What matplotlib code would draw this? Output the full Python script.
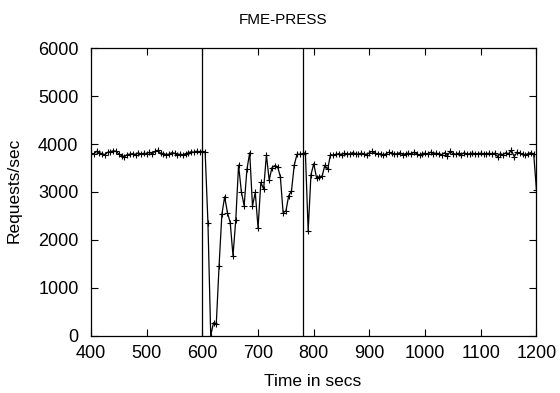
import numpy as np
import matplotlib
matplotlib.use("Agg")
import matplotlib.pyplot as plt

plt.rcParams['font.family'] = ['Liberation Sans', 'DejaVu Sans']

# sample times, one every 5 secs
times = np.arange(400, 1201, 5)

# steady state before the event (400..605)
before = [3810, 3790, 3850, 3820, 3800, 3780, 3830, 3840, 3860, 3850,
          3790, 3760, 3740, 3780, 3790, 3800, 3780, 3820, 3790, 3810,
          3800, 3830, 3790, 3850, 3870, 3810, 3800, 3780, 3790, 3820,
          3810, 3770, 3790, 3780, 3800, 3820, 3840, 3830, 3850, 3840,
          3850, 3830]

# disturbed period (610..835)
during = [2360, 0, 270, 245, 1460, 2530, 2900, 2570, 2360, 1670,
          2420, 3560, 3010, 2710, 3470, 3820, 2710, 2990, 2250, 3200,
          3060, 3770, 3250, 3510, 3550, 3530, 3320, 2570, 2600, 2920,
          3020, 3560, 3790, 3790, 3800, 3820, 2190, 3360, 3590, 3300,
          3320, 3330, 3560, 3470, 3780, 3770]

# recovered (840..1200)
after = [3790, 3800, 3780, 3810, 3790, 3800, 3820, 3800, 3790, 3810, 3800, 3780,
         3820, 3850, 3810, 3790, 3800, 3770, 3800, 3830, 3810, 3790, 3800, 3820,
         3780, 3800, 3810, 3790, 3830, 3800, 3770, 3800, 3810, 3790, 3830, 3800,
         3810, 3800, 3780, 3820, 3750, 3850, 3800, 3790, 3810, 3780, 3820, 3790,
         3800, 3810, 3800, 3800, 3810, 3800, 3800, 3810, 3790, 3810, 3740, 3800,
         3780, 3820, 3800, 3870, 3740, 3830, 3810, 3790, 3780, 3800, 3820, 3790,
         3040]

requests = before + during + after

# event markers
events = [600, 780]

fig = plt.figure(figsize=(5.6, 3.93), dpi=100)
ax = fig.add_axes([0.1625, 0.146, 0.7955, 0.731])

ax.plot(times, requests, color='black', linewidth=0.9, marker='+',
        markersize=4, markeredgewidth=0.8)
for ev in events:
    ax.axvline(ev, color='black', linewidth=0.9)

ax.set_xlim(400, 1200)
ax.set_ylim(0, 6000)
ax.set_xticks(range(400, 1201, 100))
ax.set_yticks(range(0, 6001, 1000))
ax.tick_params(direction='in', top=True, right=True, length=5, width=0.8,
               labelsize=13)
ax.tick_params(axis='x', pad=7)
ax.tick_params(axis='y', pad=9)
for s in ax.spines.values():
    s.set_linewidth(0.9)

# gnuplot centres the title on the whole canvas
fig.text(0.505, 1 - 20 / 393, 'FME-PRESS', fontsize=11, ha='center', va='center')
fig.text(0.559, 1 - 382 / 393, 'Time in secs', fontsize=12.5, ha='center', va='center')
fig.text(14 / 560, 1 - 190 / 393, 'Requests/sec', fontsize=12.5, ha='center',
         va='center', rotation=90)

fig.savefig('out.png', dpi=100)
